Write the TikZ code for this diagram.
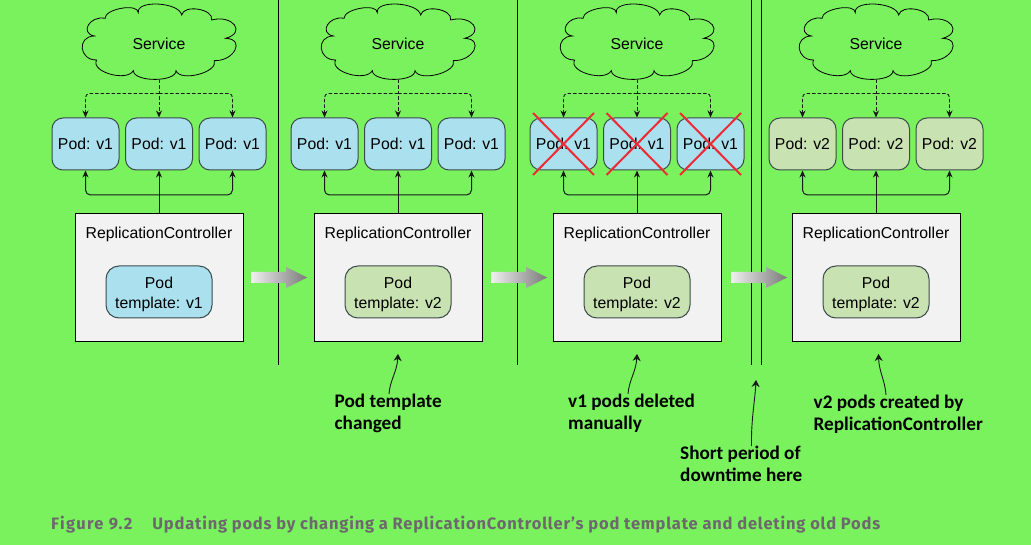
\documentclass[tikz,border=0pt]{standalone}
\usepackage{fontspec}
\setmainfont{Liberation Sans}
\newfontfamily\notefont{Carlito}[BoldFont={Carlito Bold}]
\newfontfamily\capfont{Fira Sans}[BoldFont={Fira Sans Bold},LetterSpace=4.9]
\newfontfamily\capheadfont{Fira Sans}[BoldFont={Fira Sans Bold},LetterSpace=8]
\usetikzlibrary{arrows.meta}
\definecolor{bg}{HTML}{79F25E}
\definecolor{podblue}{HTML}{ABE0EF}
\definecolor{podgreen}{HTML}{C8E2B1}
\definecolor{edge}{HTML}{3C4A4C}
\definecolor{capgrey}{HTML}{6E686E}
\definecolor{xred}{HTML}{EE2A35}
\tikzset{
  lbl/.style={font=\fontsize{15.8}{18}\selectfont,text=black},
  cloudline/.style={draw=black,line width=0.8pt},
  service/.style={lbl,minimum width=153pt,minimum height=72pt,inner sep=0pt},
  pod/.style={lbl,draw=edge,line width=1pt,rounded corners=11pt,minimum width=67pt,minimum height=52pt,inner sep=0pt},
  rcbox/.style={draw=black,line width=1pt,fill=black!5,minimum width=168pt,minimum height=128pt,inner sep=0pt},
  rctitle/.style={lbl,inner sep=0pt},
  tmpl/.style={lbl,draw=edge,line width=1pt,rounded corners=13pt,minimum width=106pt,minimum height=52pt,inner sep=0pt,align=center},
  tip/.style={-{Stealth[length=7pt,width=6pt]}},
  dashlink/.style={tip,line width=0.9pt,dash pattern=on 3.5pt off 2pt,rounded corners=4pt,draw=black!90},
  solidlink/.style={tip,line width=1pt,rounded corners=5pt,draw=black!90},
  divider/.style={line width=0.9pt,draw=black},
  cross/.style={line width=2pt,draw=xred},
  note/.style={font=\notefont\bfseries\fontsize{19.2}{22}\selectfont,align=left,anchor=north west,inner sep=0pt},
  notelink/.style={-{Stealth[length=7pt,width=8pt]},line width=0.9pt,draw=black!90},
}
\newcommand{\cloudpath}{
  (195,55) .. controls (195,26) and (295,9) .. (295,38)
  .. controls (288,-1) and (418,6) .. (425,45)
  .. controls (432,12) and (522,27) .. (515,60)
  .. controls (578,43) and (620,98) .. (557,115)
  .. controls (617,117) and (583,184) .. (523,182)
  .. controls (536,217) and (421,247) .. (408,212)
  .. controls (409,247) and (281,247) .. (280,212)
  .. controls (260,247) and (150,215) .. (170,180)
  .. controls (117,181) and (110,109) .. (163,108)
  .. controls (118,99) and (150,46) .. (195,55) -- cycle}
\begin{document}
\begin{tikzpicture}[x=1pt,y=-1pt]
\useasboundingbox (0,0) rectangle (1031,545);
\fill[bg] (0,0) rectangle (1031,545);
% dividers
\foreach \d in {278,517,751,761}
  \draw[divider] (\d,0) -- (\d,365);
% columns
\foreach \c/\dx/\pc/\pv/\tc/\tv in {1/0/podblue/v1/podblue/v1,2/239/podblue/v1/podgreen/v2,3/478/podblue/v1/podgreen/v2,4/717/podgreen/v2/podgreen/v2}{
  \begin{scope}[shift={(\dx,0)}]
    \begin{scope}[shift={(40,0)},x=0.3333pt,y=-0.3333pt]
      \draw[cloudline] \cloudpath;
    \end{scope}
    \node[service] (svc\c) at (159,43.5) {Service};
    \node[pod,fill=\pc] (podA\c) at (85.5,144) {Pod: \pv};
    \node[pod,fill=\pc] (podB\c) at (159,144) {Pod: \pv};
    \node[pod,fill=\pc] (podC\c) at (232.5,144) {Pod: \pv};
    \node[rcbox] (rc\c) at (159,277.5) {};
    \node[rctitle] (title\c) at (159,234) {ReplicationController};
    \node[tmpl,fill=\tc] (tpl\c) at (159,292) {\rule{0pt}{15.5pt}Pod\\[2pt]template: \tv};
    \draw[dashlink] (svc\c.south) -- (podB\c.north);
    \draw[dashlink] (svc\c.south |- 0,93.5) -| (podA\c.north);
    \draw[dashlink] (svc\c.south |- 0,93.5) -| (podC\c.north);
    \draw[solidlink] (rc\c.north) -- (podB\c.south);
    \draw[solidlink] (rc\c.north |- 0,195) -| (podA\c.south);
    \draw[solidlink] (rc\c.north |- 0,195) -| (podC\c.south);
  \end{scope}
}
% crosses
\foreach \n in {podA3,podB3,podC3}
  \draw[cross] ([xshift=-30.5pt,yshift=31pt]\n.center) -- ([xshift=30.5pt,yshift=-31pt]\n.center)
               ([xshift=-30.5pt,yshift=-31pt]\n.center) -- ([xshift=30.5pt,yshift=31pt]\n.center);
% big arrows
\foreach \dx in {0,240,480}
  \shade[left color=black!6,right color=black!52]
    (251+\dx,272) -- (286+\dx,272) -- (286+\dx,267) -- (307+\dx,277.5) -- (286+\dx,288) -- (286+\dx,283) -- (251+\dx,283) -- cycle;
% notes
\node[note] (note2) at (334.5,394) {Pod template\\changed};
\node[note] (note3) at (568,394) {v1 pods deleted\\manually};
\node[note] (note5) at (680,446) {Short period of\\downtime here};
\node[note] (note4) at (813.5,395) {v2 pods created by\\ReplicationController};
\coordinate (tip2) at (398,354);
\coordinate (tip3) at (637,354);
\coordinate (tip5) at (756,380);
\coordinate (tip4) at (878.5,354);
\draw[notelink] ([xshift=54.5pt]note2.north west) .. controls (390,380) and (397,372) .. (tip2);
\draw[notelink] ([xshift=60pt]note3.north west) .. controls (629,380) and (636,372) .. (tip3);
\draw[notelink] ([xshift=71.5pt]note5.north west) .. controls (751,420) and (755,400) .. (tip5);
\draw[notelink] ([xshift=72.5pt]note4.north west) .. controls (885,380) and (879,372) .. (tip4);
% caption
\node[font=\capfont\bfseries\fontsize{16.5}{19}\selectfont,text=capgrey,anchor=base west,inner sep=0pt] (caption) at (51,529)
  {{\capheadfont\bfseries Figure 9.2}\hspace{20pt}Updating pods by changing a ReplicationController’s pod template and deleting old Pods};
\end{tikzpicture}
\end{document}
